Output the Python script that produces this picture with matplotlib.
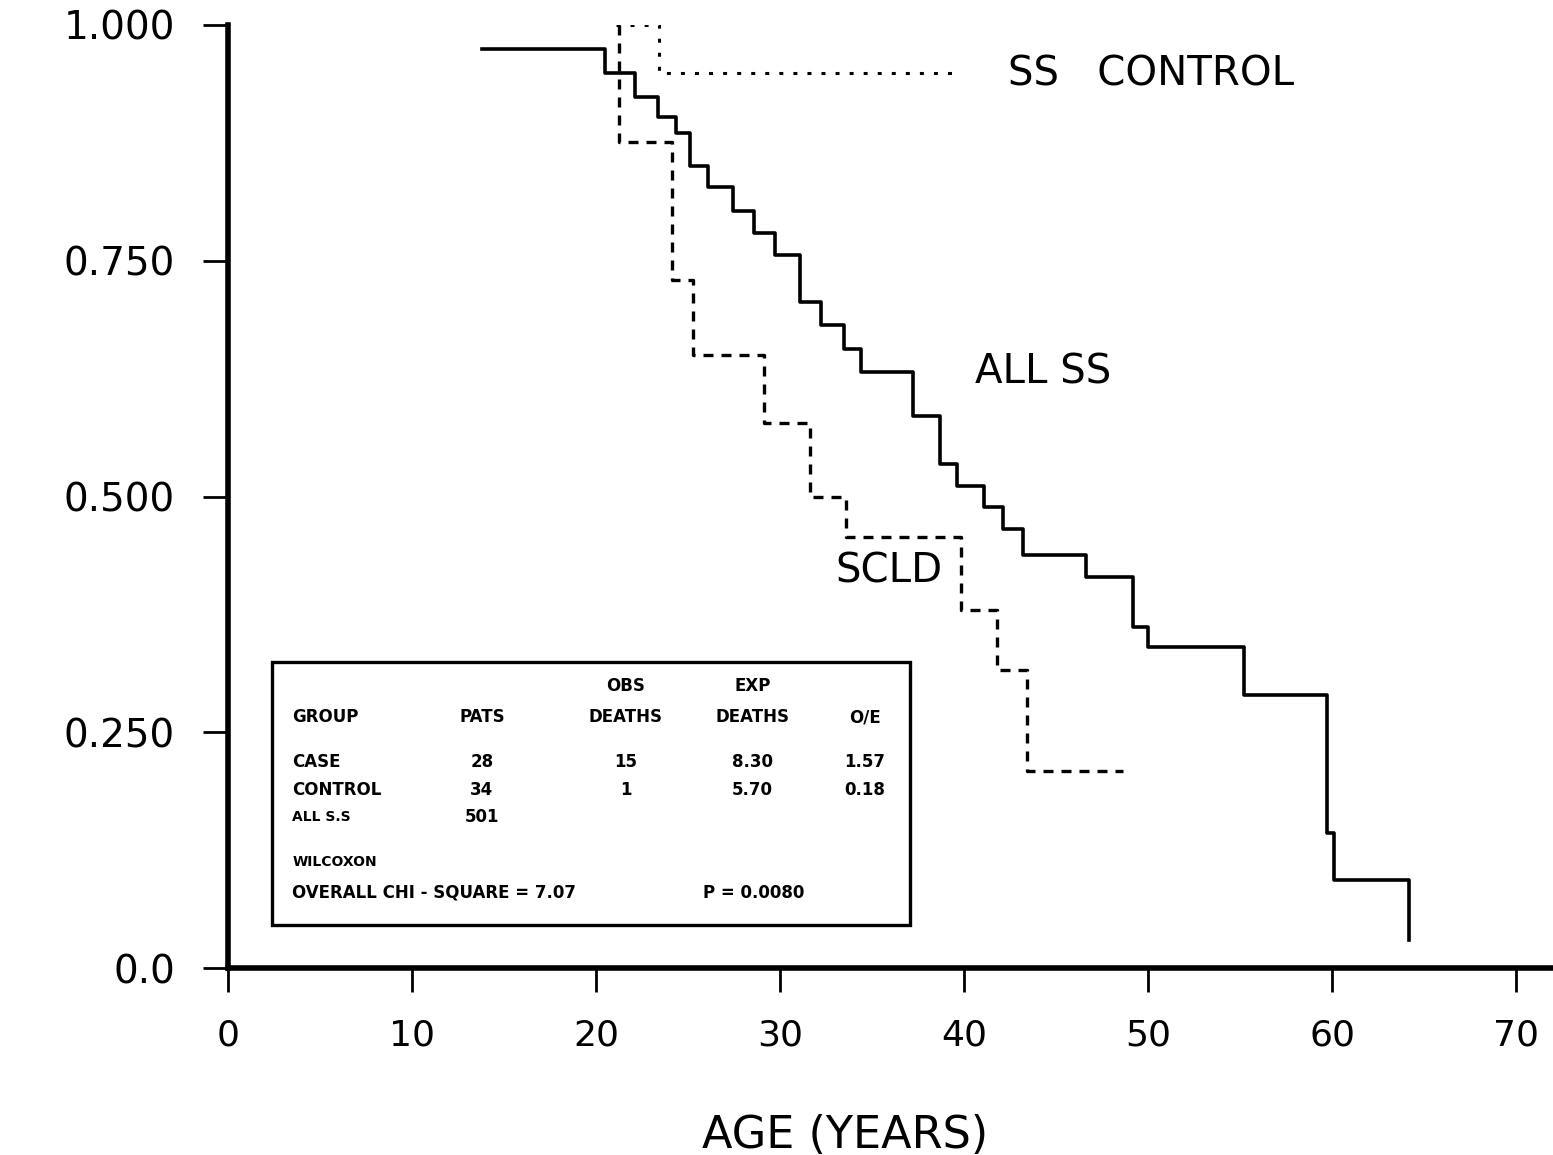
import matplotlib
matplotlib.use('Agg')
import matplotlib.pyplot as plt
from matplotlib.patches import Rectangle

# survival curves (age in years, fraction surviving)
all_ss_age = [13.8, 20.5, 22.1, 23.35, 24.35, 25.1, 26.1, 27.45, 28.6, 29.75,
              31.07, 32.2, 33.5, 34.4, 37.2, 38.7, 39.6, 41.1, 42.1, 43.2,
              46.6, 49.2, 50.0, 55.2, 59.7, 60.1, 64.2]
all_ss_surv = [0.975, 0.949, 0.924, 0.902, 0.885, 0.851, 0.828, 0.803, 0.779, 0.756,
               0.706, 0.682, 0.656, 0.632, 0.585, 0.534, 0.511, 0.489, 0.466, 0.438,
               0.415, 0.362, 0.340, 0.290, 0.143, 0.093, 0.030]

control_age = [21.1, 23.4, 39.45]
control_surv = [1.0, 0.949, 0.949]

scld_age = [21.25, 21.25, 24.1, 25.25, 29.1, 31.6, 33.6, 39.85, 41.8, 43.4, 48.65]
scld_surv = [1.0, 0.876, 0.730, 0.650, 0.578, 0.499, 0.457, 0.380, 0.316, 0.209, 0.209]

x_ticks = [0, 10, 20, 30, 40, 50, 60, 70]
y_ticks = [0.0, 0.25, 0.5, 0.75, 1.0]
y_tick_labels = ['0.0', '0.250', '0.500', '0.750', '1.000']

# summary table in the box
table_header_top = ['OBS', 'EXP']
table_header = ['GROUP', 'PATS', 'DEATHS', 'DEATHS', 'O/E']
table_rows = [
    ['CASE', '28', '15', '8.30', '1.57'],
    ['CONTROL', '34', '1', '5.70', '0.18'],
]
all_ss_row = ['ALL S.S', '501']
test_name = 'WILCOXON'
test_stat = 'OVERALL CHI - SQUARE = 7.07'
test_p = 'P = 0.0080'

plt.rcParams['font.family'] = ['DejaVu Sans']

fig = plt.figure(figsize=(15.53, 11.55), dpi=100)
ax = fig.add_axes([228 / 1553, 187 / 1155, 1325 / 1553, 943 / 1155])

ax.step(all_ss_age, all_ss_surv, where='post', color='black', lw=2.6)
ax.step(control_age, control_surv, where='post', color='black', lw=2.2,
        linestyle=(0, (1.3, 3.3)))
ax.step(scld_age, scld_surv, where='post', color='black', lw=2.4,
        linestyle=(0, (3.0, 2.4)))

ax.set_xlim(0, 72)
ax.set_ylim(0, 1.0)
ax.set_xticks(x_ticks)
ax.set_yticks(y_ticks)
ax.set_yticklabels(y_tick_labels)
ax.tick_params(axis='x', direction='out', length=17, width=2, pad=19, labelsize=26)
ax.tick_params(axis='y', direction='out', length=18, width=2, pad=20, labelsize=28)
for side in ['top', 'right']:
    ax.spines[side].set_visible(False)
for side in ['left', 'bottom']:
    ax.spines[side].set_linewidth(4)
ax.patch.set_alpha(0)

# curve labels
ax.text(42.4, 0.947, 'SS   CONTROL', fontsize=29, va='center', ha='left')
ax.text(40.6, 0.631, 'ALL SS', fontsize=29, va='center', ha='left')
ax.text(33.0, 0.420, 'SCLD', fontsize=29, va='center', ha='left')

# table box
ax.add_patch(Rectangle((2.39, 0.0456), 37.05 - 2.39, 0.3245 - 0.0456,
                       fill=False, edgecolor='black', lw=2.4))
col_x = [3.5, 13.8, 21.6, 28.5, 34.6]
tkw = dict(fontsize=12, fontweight='bold', va='center')
ax.text(col_x[2], 0.299, table_header_top[0], ha='center', **tkw)
ax.text(col_x[3], 0.299, table_header_top[1], ha='center', **tkw)
for i, h in enumerate(table_header):
    ax.text(col_x[i], 0.266, h, ha='left' if i == 0 else 'center', **tkw)
for row, yy in zip(table_rows, [0.218, 0.189]):
    for i, v in enumerate(row):
        ax.text(col_x[i], yy, v, ha='left' if i == 0 else 'center', **tkw)
ax.text(col_x[0], 0.160, all_ss_row[0], ha='left', fontsize=10, fontweight='bold', va='center')
ax.text(col_x[1], 0.160, all_ss_row[1], ha='center', **tkw)
ax.text(col_x[0], 0.112, test_name, ha='left', fontsize=10, fontweight='bold', va='center')
ax.text(col_x[0], 0.080, test_stat, ha='left', **tkw)
ax.text(25.8, 0.080, test_p, ha='left', **tkw)

fig.text(845 / 1553, 1 - 1135 / 1155, 'AGE (YEARS)', fontsize=32,
         ha='center', va='center')

fig.savefig('out.png', dpi=100, facecolor='white')
